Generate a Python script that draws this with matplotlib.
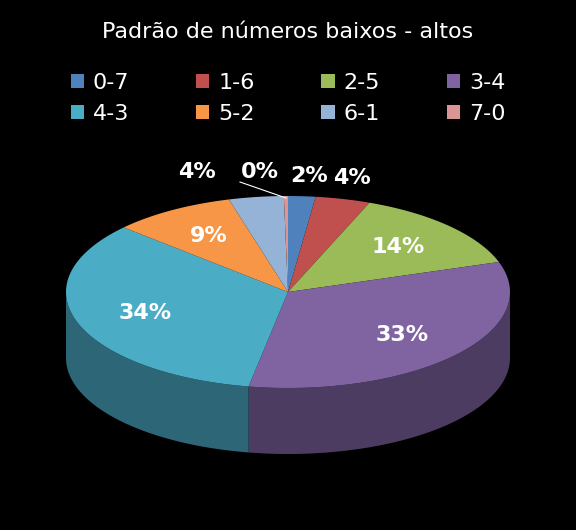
import numpy as np
import matplotlib.pyplot as plt
from matplotlib.patches import Polygon, Patch

labels = ['0-7', '1-6', '2-5', '3-4', '4-3', '5-2', '6-1', '7-0']
values = [2, 4, 14, 33, 34, 9, 4, 0.3]
colors = ['#4F81BD', '#C0504D', '#9BBB59', '#8064A2', '#4BACC6', '#F79646', '#95B3D7', '#D99694']
shown = ['2%', '4%', '14%', '33%', '34%', '9%', '4%', '0%']

fig = plt.figure(figsize=(5.76, 5.30), dpi=100, facecolor='black')
ax = fig.add_axes([0, 0, 1, 1])
ax.set_facecolor('black')
ax.set_xlim(0, 576)
ax.set_ylim(530, 0)
ax.axis('off')

cx, cy, rx, ry, depth = 288, 292, 222, 96, 66

def dark(c, f=0.6):
    r, g, b = [int(c[i:i + 2], 16) / 255 for i in (1, 3, 5)]
    return (r * f, g * f, b * f)

total = sum(values)
start = 90.0
wedges = []
for v in values:
    span = 360 * v / total
    wedges.append((start - span, start))
    start -= span

# side walls (front half only)
for (a0, a1), c in zip(wedges, colors):
    for off in (0, -360):
        l2, h2 = max(a0 - off, -180), min(a1 - off, 0)
        if h2 > l2:
            t = np.radians(np.linspace(l2, h2, 60))
            xs = cx + rx * np.cos(t)
            ys = cy - ry * np.sin(t)
            pts = list(zip(xs, ys)) + list(zip(xs[::-1], ys[::-1] + depth))
            ax.add_patch(Polygon(pts, closed=True, fc=dark(c), ec='none'))

# top faces
for (a0, a1), c in zip(wedges, colors):
    t = np.radians(np.linspace(a0, a1, 80))
    pts = [(cx, cy)] + list(zip(cx + rx * np.cos(t), cy - ry * np.sin(t)))
    ax.add_patch(Polygon(pts, closed=True, fc=c, ec='none'))

# labels
small_pos = {0: (309, 176), 1: (352, 178), 6: (197, 172), 7: (260, 172)}
for i, ((a0, a1), v, s) in enumerate(zip(wedges, values, shown)):
    if i in small_pos:
        x, y = small_pos[i]
    else:
        m = np.radians((a0 + a1) / 2)
        x = cx + 0.68 * rx * np.cos(m)
        y = cy - 0.68 * ry * np.sin(m)
    if s == '0%':
        ax.plot([x - 20, cx - 2], [y + 10, cy - ry + 2], color='white', lw=0.8)
    ax.text(x, y, s, color='white', fontsize=16, fontweight='bold',
            ha='center', va='center')

fig.text(0.5, 0.94, 'Padrão de números baixos - altos', color='white',
         fontsize=16, ha='center', va='center')
# matplotlib fills legend column-wise; reorder so rows read 0-7..3-4, 4-3..7-0
order = [0, 4, 1, 5, 2, 6, 3, 7]
handles = [Patch(fc=colors[i], ec='none') for i in order]
fig.legend(handles, [labels[i] for i in order], loc='upper center', bbox_to_anchor=(0.5, 0.9),
           ncol=4, frameon=False, labelcolor='white', fontsize=16,
           handlelength=0.6, handleheight=0.6, columnspacing=3.0, handletextpad=0.4)

fig.savefig('out.png', facecolor='black')
